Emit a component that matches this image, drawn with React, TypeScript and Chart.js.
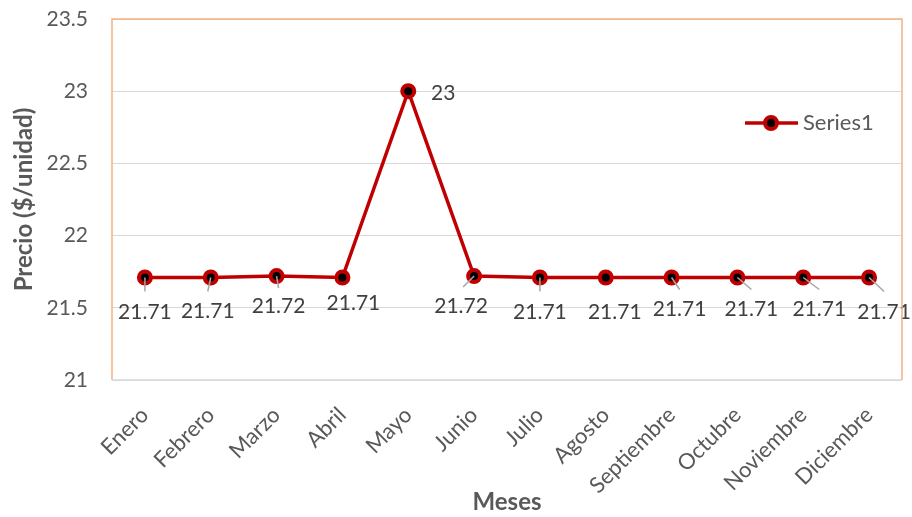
import React, { useEffect, useRef } from "react";
import { Chart, registerables } from "chart.js";

Chart.register(...registerables);

const months = [
  "Enero", "Febrero", "Marzo", "Abril", "Mayo", "Junio",
  "Julio", "Agosto", "Septiembre", "Octubre", "Noviembre", "Diciembre",
];
const prices = [21.71, 21.71, 21.72, 21.71, 23, 21.72, 21.71, 21.71, 21.71, 21.71, 21.71, 21.71];
const seriesName = "Series1";
const yMin = 21;
const yMax = 23.5;
const yStep = 0.5;
const xTitle = "Meses";
const yTitle = "Precio ($/unidad)";

// label placement (layout only): [labelDx, labelDy, leaderDx, leaderDy] relative to point
const labelLayout: number[][] = [
  [0, 35, 0, 14],
  [-3, 34, -3, 14],
  [2, 30, 2, 12],
  [11, 26, 0, 0],
  [35, 2, 0, 0],
  [-13, 30, -11, 11],
  [0, 35, 0, 14],
  [9, 35, 0, 0],
  [8, 32, 8, 12],
  [14, 32, 14, 12],
  [16, 32, 16, 12],
  [15, 35, 15, 14],
];

const FONT = "Lato, 'Open Sans', sans-serif";
const RED = "#c00000";
const GREY = "#595959";

const overlayPlugin = {
  id: "overlay",
  afterDatasetsDraw(chart: any) {
    const { ctx, chartArea } = chart;
    const meta = chart.getDatasetMeta(0);
    ctx.save();
    meta.data.forEach((pt: any, i: number) => {
      const [ldx, ldy, kdx, kdy] = labelLayout[i];
      if (kdx !== 0 || kdy !== 0) {
        ctx.strokeStyle = "#a6a6a6";
        ctx.lineWidth = 1.5;
        ctx.beginPath();
        ctx.moveTo(pt.x, pt.y);
        ctx.lineTo(pt.x + kdx, pt.y + kdy);
        ctx.stroke();
      }
      ctx.fillStyle = "#404040";
      ctx.font = `21px ${FONT}`;
      ctx.textAlign = "center";
      ctx.textBaseline = "middle";
      ctx.fillText(String(prices[i]), pt.x + ldx, pt.y + ldy);
    });
    ctx.strokeStyle = "#f4b183";
    ctx.lineWidth = 1.5;
    ctx.beginPath();
    ctx.moveTo(chartArea.left, chartArea.bottom);
    ctx.lineTo(chartArea.left, chartArea.top);
    ctx.lineTo(chartArea.right, chartArea.top);
    ctx.lineTo(chartArea.right, chartArea.bottom);
    ctx.stroke();
    ctx.strokeStyle = "#d9d9d9";
    ctx.beginPath();
    ctx.moveTo(chartArea.left, chartArea.bottom);
    ctx.lineTo(chartArea.right, chartArea.bottom);
    ctx.stroke();
    const ly = 123;
    ctx.strokeStyle = RED;
    ctx.lineWidth = 3.5;
    ctx.beginPath();
    ctx.moveTo(745, ly);
    ctx.lineTo(798, ly);
    ctx.stroke();
    ctx.beginPath();
    ctx.arc(771, ly, 6, 0, Math.PI * 2);
    ctx.fillStyle = "#000";
    ctx.fill();
    ctx.lineWidth = 4;
    ctx.strokeStyle = RED;
    ctx.stroke();
    ctx.fillStyle = GREY;
    ctx.font = `22px ${FONT}`;
    ctx.textAlign = "left";
    ctx.textBaseline = "middle";
    ctx.fillText(seriesName, 803, ly);
    ctx.restore();
  },
};

export default function App() {
  const ref = useRef<HTMLCanvasElement>(null);
  useEffect(() => {
    if (!ref.current) return;
    const chart = new Chart(ref.current, {
      type: "line",
      data: {
        labels: months,
        datasets: [
          {
            label: seriesName,
            data: prices,
            borderColor: RED,
            borderWidth: 3.5,
            pointRadius: 6,
            pointBorderWidth: 4,
            pointBackgroundColor: "#000",
            pointBorderColor: RED,
            tension: 0,
          },
        ],
      },
      options: {
        animation: false,
        responsive: true,
        maintainAspectRatio: false,
        layout: { padding: { top: 19, right: 10, left: 0, bottom: 0 } },
        plugins: { legend: { display: false }, tooltip: { enabled: false } },
        scales: {
          x: {
            offset: true,
            grid: { display: false, drawTicks: false },
            border: { display: false },
            ticks: {
              minRotation: 45,
              maxRotation: 45,
              padding: 22,
              color: GREY,
              font: { family: FONT, size: 22 },
            },
            title: {
              display: true,
              text: xTitle,
              color: GREY,
              font: { family: FONT, size: 24, weight: "bold" },
              padding: { top: 0, bottom: 0 },
            },
            afterFit: (s: any) => {
              s.height = 137;
              s.paddingLeft = 0;
              s.paddingRight = 0;
            },
          },
          y: {
            min: yMin,
            max: yMax,
            grid: { color: "#d9d9d9", lineWidth: 1, drawTicks: false },
            border: { display: false },
            ticks: {
              stepSize: yStep,
              padding: 24,
              color: GREY,
              font: { family: FONT, size: 21 },
              callback: (v: any) => String(Number(v)),
            },
            title: {
              display: true,
              text: yTitle,
              color: GREY,
              font: { family: FONT, size: 24, weight: "bold" },
              padding: { top: 10, bottom: 0 },
            },
            afterFit: (s: any) => {
              s.width = 112;
              s.paddingTop = 0;
              s.paddingBottom = 0;
            },
          },
        },
      },
      plugins: [overlayPlugin],
    });
    return () => chart.destroy();
  }, []);
  return (
    <div style={{ position: "absolute", left: 0, top: 0, width: 912, height: 517, background: "#fff" }}>
      <canvas ref={ref} />
    </div>
  );
}
